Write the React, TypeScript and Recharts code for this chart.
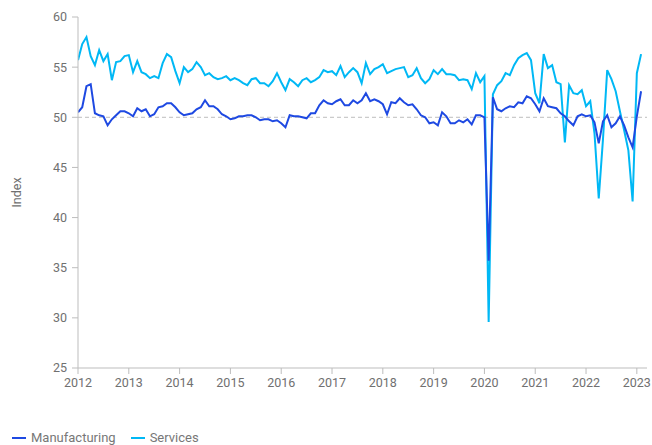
import { LineChart, Line, XAxis, YAxis, ReferenceLine, Legend } from 'recharts';

const startYear = 2012;
const yearTicks = [2012, 2013, 2014, 2015, 2016, 2017, 2018, 2019, 2020, 2021, 2022, 2023];
const indexTicks = [25, 30, 35, 40, 45, 50, 55, 60];

// monthly readings, Jan 2012 - Feb 2023
const manufacturing = [
  50.5, 51.0, 53.1, 53.3, 50.4, 50.2, 50.1, 49.2, 49.8, 50.2, 50.6, 50.6,
  50.4, 50.1, 50.9, 50.6, 50.8, 50.1, 50.3, 51.0, 51.1, 51.4, 51.4, 51.0,
  50.5, 50.2, 50.3, 50.4, 50.8, 51.0, 51.7, 51.1, 51.1, 50.8, 50.3, 50.1,
  49.8, 49.9, 50.1, 50.1, 50.2, 50.2, 50.0, 49.7, 49.8, 49.8, 49.6, 49.7,
  49.4, 49.0, 50.2, 50.1, 50.1, 50.0, 49.9, 50.4, 50.4, 51.2, 51.7, 51.4,
  51.3, 51.6, 51.8, 51.2, 51.2, 51.7, 51.4, 51.7, 52.4, 51.6, 51.8, 51.6,
  51.3, 50.3, 51.5, 51.4, 51.9, 51.5, 51.2, 51.3, 50.8, 50.2, 50.0, 49.4,
  49.5, 49.2, 50.5, 50.1, 49.4, 49.4, 49.7, 49.5, 49.8, 49.3, 50.2, 50.2,
  50.0, 35.7, 52.0, 50.8, 50.6, 50.9, 51.1, 51.0, 51.5, 51.4, 52.1, 51.9,
  51.3, 50.6, 51.9, 51.1, 51.0, 50.9, 50.4, 50.1, 49.6, 49.2, 50.1, 50.3,
  50.1, 50.2, 49.5, 47.4, 49.6, 50.2, 49.0, 49.4, 50.1, 49.2, 48.0, 47.0,
  50.1, 52.6,
];

const services = [
  55.7, 57.3, 58.0, 56.1, 55.2, 56.7, 55.6, 56.3, 53.7, 55.5, 55.6, 56.1,
  56.2, 54.5, 55.6, 54.5, 54.3, 53.9, 54.1, 53.9, 55.4, 56.3, 56.0, 54.6,
  53.4, 55.0, 54.5, 54.8, 55.5, 55.0, 54.2, 54.4, 54.0, 53.8, 53.9, 54.1,
  53.7, 53.9, 53.7, 53.4, 53.2, 53.8, 53.9, 53.4, 53.4, 53.1, 53.6, 54.4,
  53.5, 52.7, 53.8, 53.5, 53.1, 53.7, 53.9, 53.5, 53.7, 54.0, 54.7, 54.5,
  54.6, 54.2, 55.1, 54.0, 54.5, 54.9, 54.5, 53.4, 55.4, 54.3, 54.8, 55.0,
  55.3, 54.4, 54.6, 54.8, 54.9, 55.0, 54.0, 54.2, 54.9, 53.9, 53.4, 53.8,
  54.7, 54.3, 54.8, 54.3, 54.3, 54.2, 53.7, 53.8, 53.7, 52.8, 54.4, 53.5,
  54.1, 29.6, 52.3, 53.2, 53.6, 54.4, 54.2, 55.2, 55.9, 56.2, 56.4, 55.7,
  52.4, 51.4, 56.3, 54.9, 55.2, 53.5, 53.3, 47.5, 53.2, 52.4, 52.3, 52.7,
  51.1, 51.6, 48.4, 41.9, 47.8, 54.7, 53.8, 52.6, 50.6, 48.7, 46.7, 41.6,
  54.4, 56.3,
];

const data = manufacturing.map((m, i) => ({
  t: startYear + i / 12,
  manufacturing: m,
  services: services[i],
}));

const axisColor = '#bdbdbd';
const textColor = '#707070';
const font = 'Roboto, sans-serif';

const legendItems = [
  { name: 'Manufacturing', color: '#1E49E2' },
  { name: 'Services', color: '#00B8F5' },
];

const LegendContent = () => (
  <div style={{ display: 'flex', alignItems: 'flex-end', height: 47, paddingLeft: 12, fontFamily: font, fontSize: 13, color: '#777' }}>
    {legendItems.map((it) => (
      <div key={it.name} style={{ display: 'flex', alignItems: 'center', marginRight: 15, lineHeight: '16px', marginBottom: -1 }}>
        <span style={{ display: 'inline-block', width: 14, height: 2, background: it.color, marginRight: 5 }} />
        {it.name}
      </div>
    ))}
  </div>
);

export default function App() {
  return (
    <div style={{ position: 'absolute', left: 0, top: 0, width: 652, height: 445, background: '#fff' }}>
      <LineChart width={652} height={445} data={data} margin={{ top: 17, right: 5, left: 0, bottom: 0 }}>
        <XAxis
          dataKey="t"
          type="number"
          domain={[2012, 2023.2]}
          ticks={yearTicks}
          tickFormatter={(v) => String(Math.round(v))}
          stroke={axisColor}
          tick={{ fill: textColor, fontSize: 12.5, fontFamily: font }}
          tickSize={6}
          tickMargin={4}
          height={30}
          allowDataOverflow
        />
        <YAxis
          domain={[25, 60]}
          ticks={indexTicks}
          width={78}
          stroke={axisColor}
          tick={{ fill: textColor, fontSize: 12.5, fontFamily: font }}
          tickSize={6}
          tickMargin={5}
          label={{ value: 'Index', angle: -90, position: 'insideLeft', offset: 17, style: { textAnchor: 'middle', fill: textColor, fontSize: 12.5, fontFamily: font } }}
        />
        <ReferenceLine y={50} stroke={axisColor} strokeDasharray="4 3" />
        <Legend verticalAlign="bottom" align="left" height={47} content={<LegendContent />} />
        <Line dataKey="services" stroke="#00B8F5" strokeWidth={2} dot={false} isAnimationActive={false} />
        <Line dataKey="manufacturing" stroke="#1E49E2" strokeWidth={2} dot={false} isAnimationActive={false} />
      </LineChart>
    </div>
  );
}
